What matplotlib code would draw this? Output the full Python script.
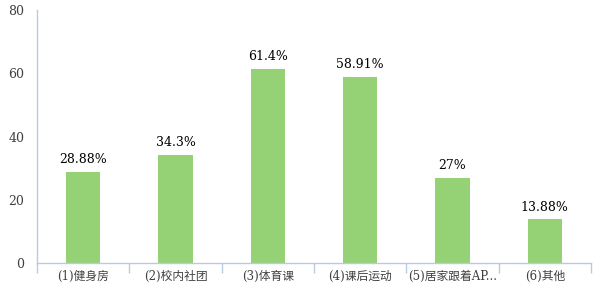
import matplotlib.pyplot as plt
from matplotlib.ticker import FixedLocator

categories = ['(1)健身房', '(2)校内社团', '(3)体育课', '(4)课后运动', '(5)居家跟着AP...', '(6)其他']
values = [28.88, 34.3, 61.4, 58.91, 27, 13.88]
value_labels = ['28.88%', '34.3%', '61.4%', '58.91%', '27%', '13.88%']
y_ticks = [0, 20, 40, 60, 80]

FONT = ['DejaVu Serif', 'Noto Sans CJK SC', 'DejaVu Sans']
plt.rcParams['font.family'] = FONT

BAR_COLOR = '#95D175'
AXIS_COLOR = '#B9CBDD'
TEXT_COLOR = '#404040'

fig = plt.figure(figsize=(6, 3), dpi=100)
ax = fig.add_axes([0.0617, 0.123, 0.9233, 0.844])

x = list(range(len(categories)))
ax.bar(x, values, width=0.37, color=BAR_COLOR, zorder=2)

for xi, v, lab in zip(x, values, value_labels):
    ax.annotate(lab, (xi, v), xytext=(0, 4), textcoords='offset points',
                ha='center', va='bottom', fontsize=9, color='black')

ax.set_xlim(-0.5, len(categories) - 0.5)
ax.set_ylim(0, 80)
ax.set_yticks(y_ticks)
ax.tick_params(axis='y', length=0, pad=9, labelsize=9, labelcolor=TEXT_COLOR)

ax.set_xticks(x)
ax.set_xticklabels(categories)
ax.xaxis.set_major_locator(FixedLocator(x))
ax.set_xticks([i - 0.5 for i in range(len(categories) + 1)], minor=True)
ax.tick_params(axis='x', which='major', length=0, pad=5, labelsize=8.5, labelcolor=TEXT_COLOR)
ax.tick_params(axis='x', which='minor', length=7, width=1, color=AXIS_COLOR)

for side in ['top', 'right']:
    ax.spines[side].set_visible(False)
for side in ['left', 'bottom']:
    ax.spines[side].set_color(AXIS_COLOR)
    ax.spines[side].set_linewidth(1)

fig.savefig('out.png', dpi=100)
